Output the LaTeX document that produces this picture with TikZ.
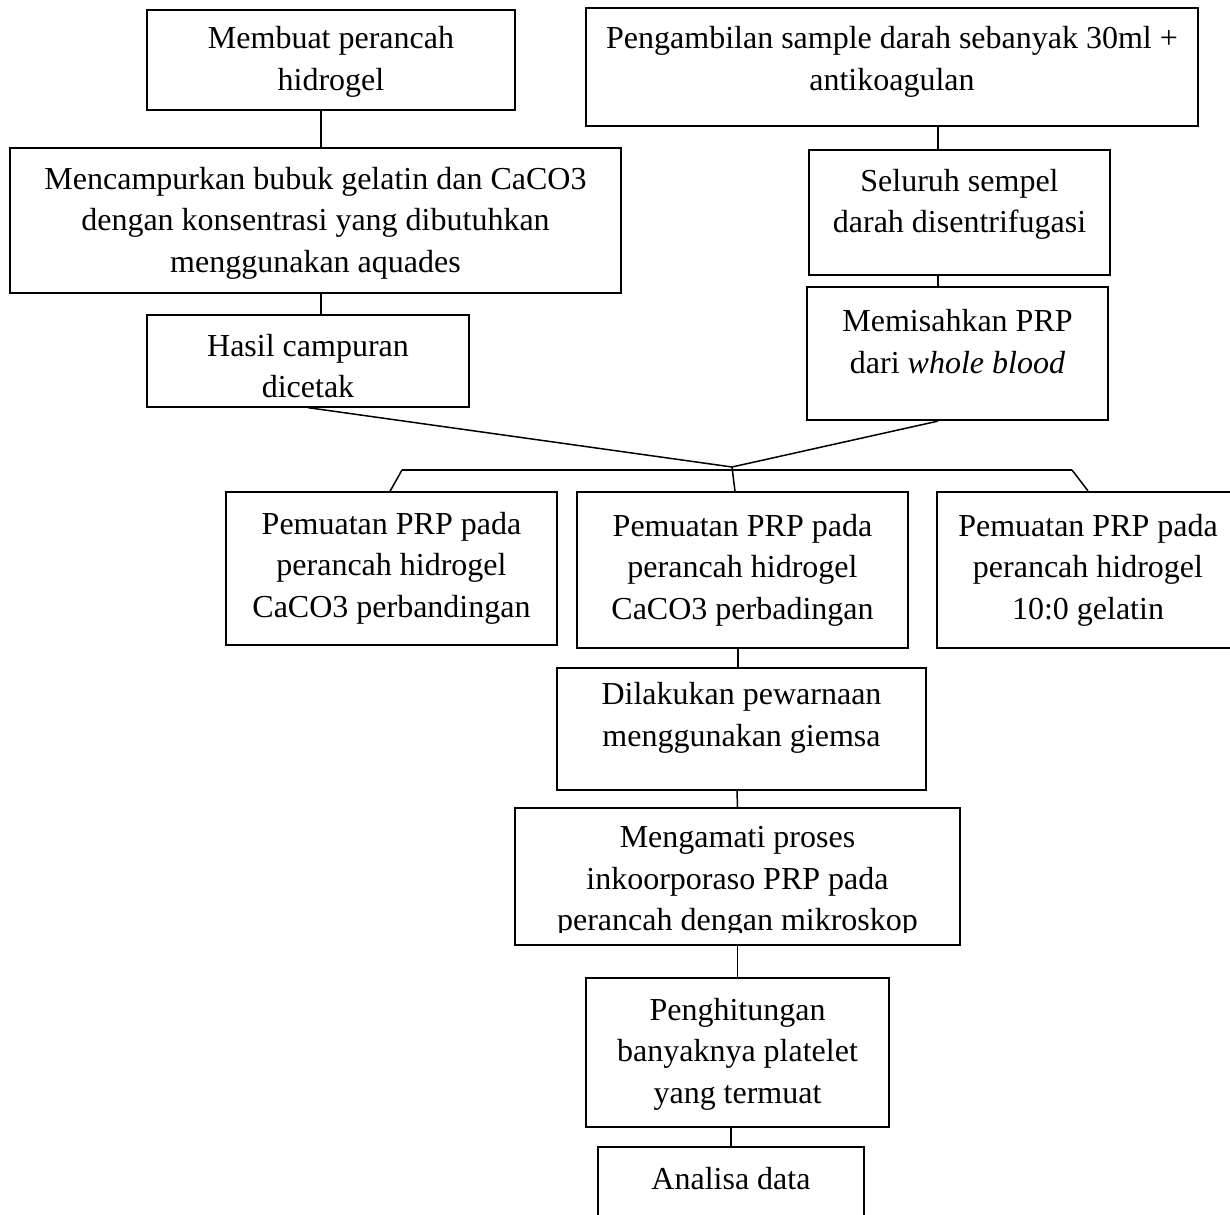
\documentclass[tikz,border=0pt]{standalone}
\usepackage{fontspec}
\setmainfont{Liberation Serif}
\usetikzlibrary{calc}
\begin{document}
\begin{tikzpicture}[x=1pt,y=-1pt,
  box/.style={draw, line width=1.3pt, inner sep=0pt, rectangle},
  thickbox/.style={box, line width=2.2pt},
  txt/.style={align=center, inner sep=0pt, font=\fontsize{32}{41.5}\selectfont},
  conn/.style={line width=1.5pt}]
\clip (0,0) rectangle (1230,1214);
\fill[white] (0,0) rectangle (1230,1214);
% left column
\node[box, minimum width=368pt, minimum height=100pt] (b1) at (331,60) {};
\node[txt] (t1) at (331,62) {Membuat perancah\\hidrogel};
\node[box, minimum width=611pt, minimum height=145pt] (b2) at (315.5,220.5) {};
\node[txt] (t2) at (315.5,223) {Mencampurkan bubuk gelatin dan CaCO3\\dengan konsentrasi yang dibutuhkan\\menggunakan aquades};
\node[box, minimum width=322pt, minimum height=92pt] (b3) at (308,361) {};
\node[txt] (t3) at (308,366) {Hasil campuran\\dicetak};
% right column
\node[box, minimum width=612pt, minimum height=118pt] (b4) at (892,67) {};
\node[txt] (t4) at (892,62) {Pengambilan sample darah sebanyak 30ml +\\antikoagulan};
\node[box, minimum width=301pt, minimum height=125pt] (b5) at (959.5,212.5) {};
\node[txt] (t5) at (959.5,204.5) {Seluruh sempel\\darah disentrifugasi};
\node[thickbox, minimum width=301pt, minimum height=133pt] (b6) at (957.5,353.5) {};
\node[txt] (t6) at (957.5,341.5) {Memisahkan PRP\\dari \textit{whole blood}};
% three boxes
\node[box, minimum width=331pt, minimum height=153pt] (b7) at (391.5,568.5) {};
\node[txt] (t7) at (391.5,568) {Pemuatan PRP pada\\perancah hidrogel\\CaCO3 perbandingan};
\node[box, minimum width=331pt, minimum height=156pt] (b8) at (742.5,570) {};
\node[txt] (t8) at (742.5,570) {Pemuatan PRP pada\\perancah hidrogel\\CaCO3 perbadingan};
\node[thickbox, minimum width=300pt, minimum height=156pt] (b9) at (1087,570) {};
\node[txt] (t9) at (1088,570) {Pemuatan PRP pada\\perancah hidrogel\\10:0 gelatin};
% lower chain
\node[box, minimum width=369pt, minimum height=122pt] (b10) at (741.5,729) {};
\node[txt] (t10) at (741.5,718) {Dilakukan pewarnaan\\menggunakan giemsa};
\node[box, minimum width=445pt, minimum height=137pt] (b11) at (737.5,876.5) {};
\begin{scope}
\clip (515,808) rectangle (960,932);
\node[txt] (t11) at (737.5,882) {Mengamati proses\\inkoorporaso PRP pada\\perancah dengan mikroskop};
\end{scope}
\node[box, minimum width=303pt, minimum height=149pt] (b12) at (737.5,1052.5) {};
\node[txt] (t12) at (737.5,1054) {Penghitungan\\banyaknya platelet\\yang termuat};
\node[box, minimum width=266pt, minimum height=140pt] (b13) at (731,1217) {};
\node[txt] (t13) at (731,1179) {Analisa data};
% connectors
\draw[conn] ([xshift=-10pt]b1.south) -- ([xshift=5.5pt]b2.north);
\draw[conn] ([xshift=5.5pt]b2.south) -- ([xshift=13pt]b3.north);
\draw[conn] ([xshift=46pt]b4.south) -- ([xshift=-21.5pt]b5.north);
\draw[conn] ([xshift=-21.5pt]b5.south) -- ([xshift=-19.5pt]b6.north);
\coordinate (J) at (732,467);
\coordinate (BL) at (402,470);
\coordinate (BR) at (1072,470);
\draw[conn] (b3.south) -- (J);
\draw[conn] ([xshift=-19.5pt]b6.south) -- (J);
\draw[conn] (BL) -- (BR);
\draw[conn] (BL) -- ([xshift=-1.5pt]b7.north);
\draw[conn] (J) -- ([xshift=-7.5pt]b8.north);
\draw[conn] (BR) -- ([xshift=1pt]b9.north);
\draw[conn] ([xshift=-4.5pt]b8.south) -- ([xshift=-3.5pt]b10.north);
\draw[conn] ([xshift=-4.5pt]b10.south) -- (b11.north);
\draw[conn] (b11.south) -- (b12.north);
\draw[conn] ([xshift=-6.5pt]b12.south) -- (b13.north);
\end{tikzpicture}
\end{document}
